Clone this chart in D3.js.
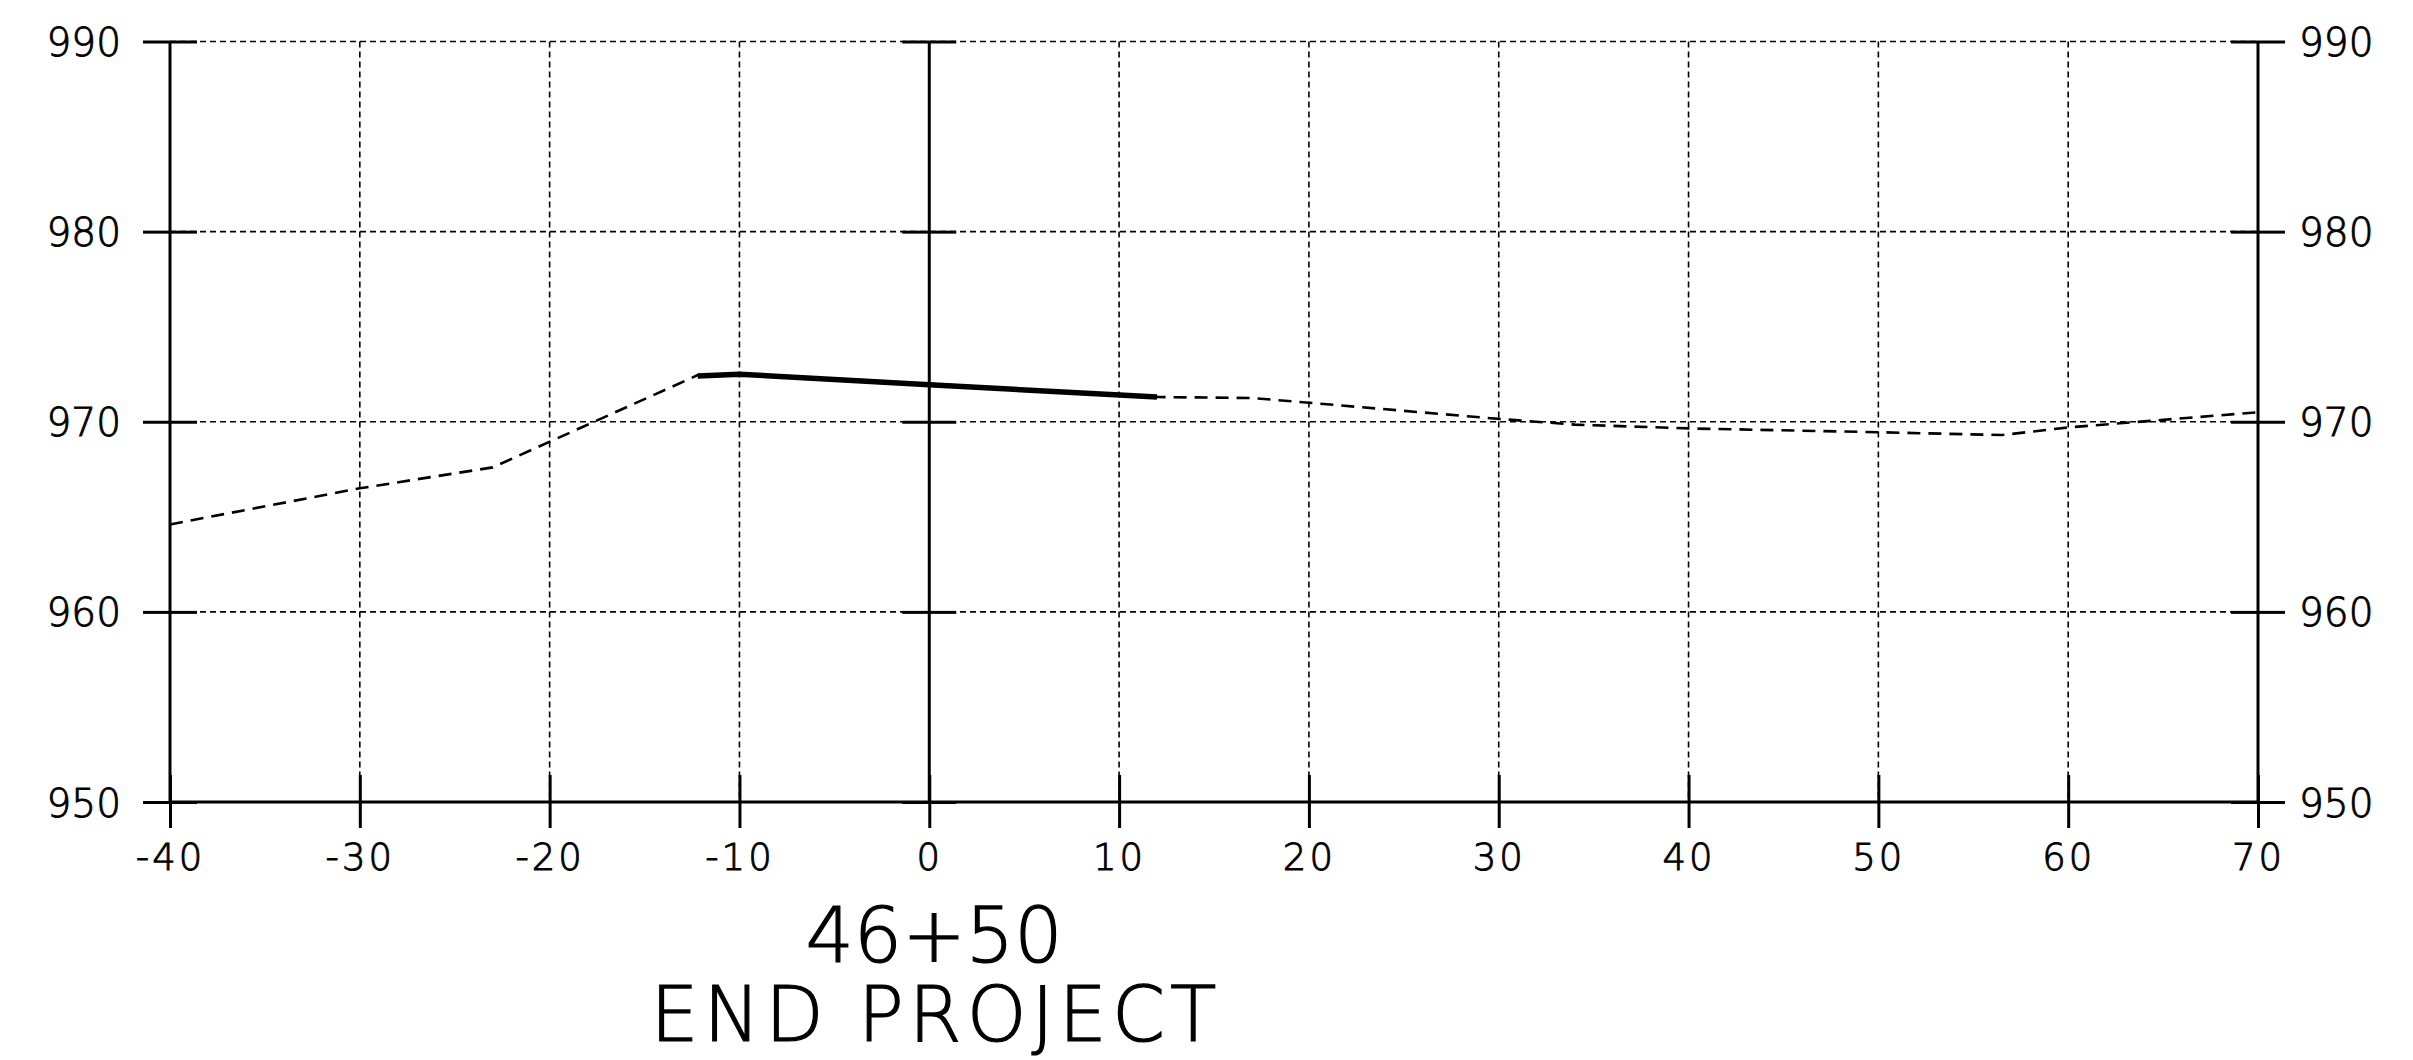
<!DOCTYPE html>
<html><head><meta charset="utf-8">
<script src="https://cdn.jsdelivr.net/npm/d3@7"></script>
<style>
html,body{margin:0;padding:0;background:#fff;}
svg{display:block;}
text{font-family:"DejaVu Sans","Liberation Sans",sans-serif;fill:#000;}
</style></head>
<body>
<script>
// ---- data ----
const xTicks = [-40,-30,-20,-10,0,10,20,30,40,50,60,70];
const yTicks = [950,960,970,980,990];
const xTickLabels = ["-40","-30","-20","-10","0","10","20","30","40","50","60","70"];
const yTickLabels = ["950","960","970","980","990"];
// existing ground (dashed)
const groundOffset = [-40,-30,-23,-12.2,-10,0,12,17,20,30,34,40,50,56.5,60,70];
const groundElev   = [964.6,966.5,967.6,972.45,972.45,972.0,971.3,971.25,971.0,970.15,969.85,969.65,969.45,969.3,969.7,970.5];
// proposed grade (solid)
const gradeOffset = [-12.2,-10,0,12];
const gradeElev   = [972.4,972.5,971.95,971.3];
const stationLabel = "46+50";
const noteLabel = "END PROJECT";

const W = 2413, H = 1060;
const x = d3.scaleLinear().domain([-40,70]).range([170,2258]);
const y = d3.scaleLinear().domain([950,990]).range([802,41.5]);

const svg = d3.select("body").append("svg").attr("width",W).attr("height",H);

// grid
const g = svg.append("g");
g.selectAll("line.vg").data(xTicks.filter(v=>v!==-40&&v!==70&&v!==0)).enter().append("line")
  .attr("x1",d=>x(d)).attr("x2",d=>x(d)).attr("y1",y(990)).attr("y2",y(950))
  .attr("stroke","#000").attr("stroke-width",1.6).attr("stroke-dasharray","6,4");
g.selectAll("line.hg").data(yTicks.filter(v=>v!==950)).enter().append("line")
  .attr("x1",x(-40)).attr("x2",x(70)).attr("y1",d=>y(d)).attr("y2",d=>y(d))
  .attr("stroke","#000").attr("stroke-width",1.6).attr("stroke-dasharray","6,4");

// solid frame lines
const solid = [[x(-40),y(990),x(-40),y(950)],[x(70),y(990),x(70),y(950)],[x(0),y(990),x(0),y(950)],[x(-40),y(950),x(70),y(950)]];
g.selectAll("line.s").data(solid).enter().append("line")
  .attr("x1",d=>d[0]).attr("y1",d=>d[1]).attr("x2",d=>d[2]).attr("y2",d=>d[3])
  .attr("stroke","#000").attr("stroke-width",3);

// axes
function style(sel){sel.selectAll(".domain").remove();sel.selectAll(".tick line").attr("stroke","#000").attr("stroke-width",3);}
function textStyle(sel,size){sel.attr("font-size",size).attr("font-weight",200).attr("stroke","#000").attr("stroke-width",0.9);}
const fmtY = (d)=>yTickLabels[yTicks.indexOf(d)];
const fmtX = (d)=>xTickLabels[xTicks.indexOf(d)];

// left axis with labels
const la = svg.append("g").attr("transform",`translate(${x(-40)},0)`)
  .call(d3.axisLeft(y).tickValues(yTicks).tickFormat(fmtY).tickSize(27).tickPadding(22));
style(la);
la.selectAll("text").call(textStyle,39).attr("dy","0.36em");
svg.append("g").attr("transform",`translate(${x(-40)},0)`)
  .call(d3.axisRight(y).tickValues(yTicks).tickFormat("").tickSize(27)).call(style);

// center axis (x = 0)
svg.append("g").attr("transform",`translate(${x(0)},0)`)
  .call(d3.axisLeft(y).tickValues(yTicks).tickFormat("").tickSize(27)).call(style);
svg.append("g").attr("transform",`translate(${x(0)},0)`)
  .call(d3.axisRight(y).tickValues(yTicks).tickFormat("").tickSize(27)).call(style);

// right axis with labels
const ra = svg.append("g").attr("transform",`translate(${x(70)},0)`)
  .call(d3.axisRight(y).tickValues(yTicks).tickFormat(fmtY).tickSize(27).tickPadding(14));
style(ra);
ra.selectAll("text").call(textStyle,39).attr("dy","0.36em");
svg.append("g").attr("transform",`translate(${x(70)},0)`)
  .call(d3.axisLeft(y).tickValues(yTicks).tickFormat("").tickSize(27)).call(style);

// bottom axis
const ba = svg.append("g").attr("transform",`translate(0,${y(950)})`)
  .call(d3.axisBottom(x).tickValues(xTicks).tickFormat(fmtX).tickSize(26).tickPadding(16));
style(ba);
ba.selectAll("text").call(textStyle,37).attr("letter-spacing",3);
svg.append("g").attr("transform",`translate(0,${y(950)})`)
  .call(d3.axisTop(x).tickValues(xTicks).tickFormat("").tickSize(27)).call(style);

// data lines
const line = d3.line().x(d=>x(d[0])).y(d=>y(d[1]));
const ground = groundOffset.map((v,i)=>[v,groundElev[i]]);
const grade = gradeOffset.map((v,i)=>[v,gradeElev[i]]);
svg.append("path").attr("d",line(ground)).attr("fill","none").attr("stroke","#000")
  .attr("stroke-width",2.6).attr("stroke-dasharray","13,8");
svg.append("path").attr("d",line(grade)).attr("fill","none").attr("stroke","#000")
  .attr("stroke-width",5.5);

// station title
svg.append("text").attr("x",x(0.25)).attr("y",962).attr("text-anchor","middle")
  .call(textStyle,76).attr("stroke-width",1.2).text(stationLabel);
svg.append("text").attr("x",x(0.35)).attr("y",1041).attr("text-anchor","middle")
  .call(textStyle,76).attr("stroke-width",1.2).attr("letter-spacing",5).text(noteLabel);
</script>
</body></html>
